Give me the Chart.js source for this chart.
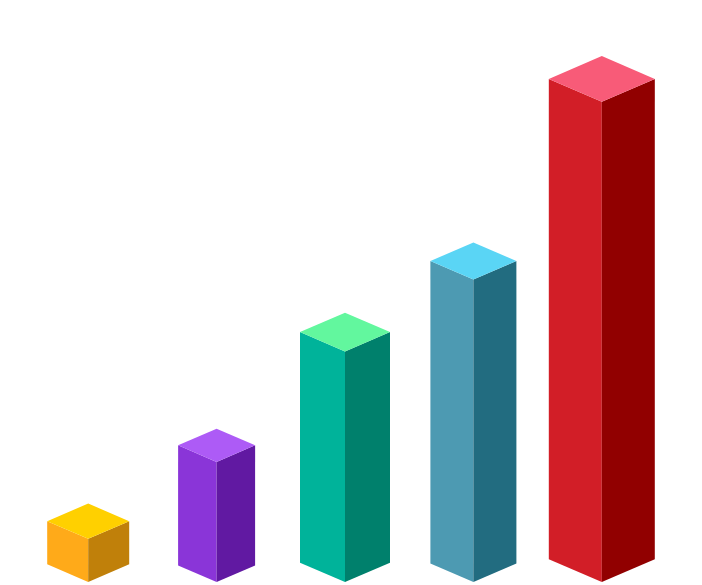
<!DOCTYPE html>
<html>
<head>
<meta charset="utf-8">
<script src="https://cdn.jsdelivr.net/npm/chart.js@4/dist/chart.umd.min.js"></script>
<style>
html,body{margin:0;padding:0;background:#fff;}
#wrap{width:702px;height:585px;position:relative;}
</style>
</head>
<body>
<div id="wrap"><canvas id="c"></canvas></div>
<script>
// Data
const categories = ['A', 'B', 'C', 'D', 'E'];
const values = [9, 25, 48, 63, 100];

// Styles (kept separate from data)
const leftColors  = ['#FFAA19', '#8A35D8', '#00B39A', '#4D9AB2', '#D21E27'];
const rightColors = ['#C0800A', '#6119A2', '#00806C', '#226C80', '#910000'];
const topColors   = ['#FFD000', '#AD5BF6', '#62F79E', '#5AD5F5', '#F85B78'];
const halfWidths  = [41, 38.5, 45, 43, 53];
const slope = 0.43;

const iso3d = {
  id: 'iso3d',
  afterDatasetsDraw(chart) {
    const ctx = chart.ctx;
    const meta = chart.getDatasetMeta(0);
    const yScale = chart.scales.y;
    const y0 = yScale.getPixelForValue(0);
    meta.data.forEach((bar, i) => {
      const cx = bar.x;
      const yt = bar.y;
      const w = halfWidths[i];
      const d = w * slope;
      ctx.save();
      // left face
      ctx.beginPath();
      ctx.moveTo(cx - w, yt - d);
      ctx.lineTo(cx, yt);
      ctx.lineTo(cx, y0);
      ctx.lineTo(cx - w, y0 - d);
      ctx.closePath();
      ctx.fillStyle = leftColors[i];
      ctx.fill();
      // right face
      ctx.beginPath();
      ctx.moveTo(cx + w, yt - d);
      ctx.lineTo(cx, yt);
      ctx.lineTo(cx, y0);
      ctx.lineTo(cx + w, y0 - d);
      ctx.closePath();
      ctx.fillStyle = rightColors[i];
      ctx.fill();
      // top face
      ctx.beginPath();
      ctx.moveTo(cx, yt - 2 * d);
      ctx.lineTo(cx - w, yt - d);
      ctx.lineTo(cx, yt);
      ctx.lineTo(cx + w, yt - d);
      ctx.closePath();
      ctx.fillStyle = topColors[i];
      ctx.fill();
      ctx.restore();
    });
  }
};

new Chart(document.getElementById('c'), {
  type: 'bar',
  data: {
    labels: categories,
    datasets: [{
      data: values,
      backgroundColor: 'rgba(0,0,0,0)',
      borderWidth: 0
    }]
  },
  options: {
    responsive: true,
    maintainAspectRatio: false,
    animation: false,
    layout: { padding: { left: 24, right: 36, top: 5.6, bottom: 3 } },
    plugins: { legend: { display: false }, tooltip: { enabled: false } },
    scales: {
      x: { display: false },
      y: { display: false, min: 0, max: 120 }
    }
  },
  plugins: [iso3d]
});
</script>
</body>
</html>
